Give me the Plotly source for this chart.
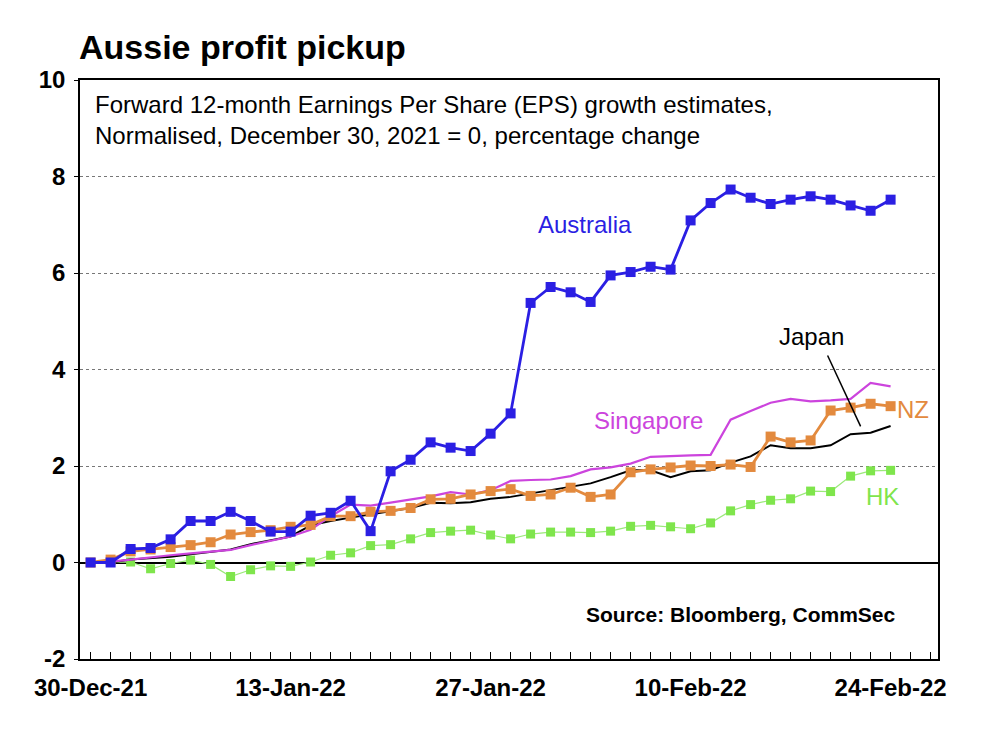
import plotly.graph_objects as go

# Trading-day index 0..40 (30-Dec-21 .. 24-Feb-22)
tick_positions = [0, 10, 20, 30, 40]
tick_labels = ["30-Dec-21", "13-Jan-22", "27-Jan-22", "10-Feb-22", "24-Feb-22"]
y_ticks = [-2, 0, 2, 4, 6, 8, 10]
y_tick_labels = ["-2", "0", "2", "4", "6", "8", "10"]

australia = [0.0, 0.0, 0.28, 0.30, 0.48, 0.86, 0.86, 1.05, 0.86, 0.64,
             0.64, 0.97, 1.03, 1.28, 0.65, 1.89, 2.13, 2.49, 2.38, 2.31,
             2.67, 3.09, 5.38, 5.71, 5.60, 5.40, 5.95, 6.02, 6.13, 6.07,
             7.09, 7.45, 7.73, 7.56, 7.43, 7.52, 7.59, 7.52, 7.40, 7.29, 7.52]
nz = [0.0, 0.06, 0.23, 0.27, 0.32, 0.36, 0.42, 0.58, 0.63, 0.67,
      0.74, 0.78, 0.96, 0.96, 1.05, 1.07, 1.13, 1.31, 1.32, 1.41,
      1.48, 1.52, 1.38, 1.41, 1.55, 1.36, 1.41, 1.87, 1.93, 1.97,
      2.01, 2.00, 2.03, 1.98, 2.61, 2.49, 2.53, 3.15, 3.21, 3.29, 3.24]
japan = [0.0, 0.0, 0.06, 0.09, 0.12, 0.17, 0.22, 0.27, 0.38, 0.46,
         0.54, 0.77, 0.86, 0.93, 1.00, 1.07, 1.13, 1.24, 1.23, 1.25,
         1.32, 1.36, 1.43, 1.50, 1.56, 1.64, 1.77, 1.91, 1.91, 1.77,
         1.89, 1.91, 2.07, 2.20, 2.43, 2.37, 2.37, 2.43, 2.66, 2.69, 2.83]
singapore = [0.0, 0.02, 0.06, 0.11, 0.15, 0.19, 0.23, 0.26, 0.36, 0.45,
             0.54, 0.68, 0.96, 1.20, 1.18, 1.24, 1.31, 1.37, 1.46, 1.41,
             1.50, 1.69, 1.71, 1.72, 1.79, 1.93, 1.97, 2.05, 2.19, 2.21,
             2.22, 2.23, 2.96, 3.14, 3.31, 3.39, 3.34, 3.36, 3.39, 3.72, 3.65]
hk = [0.0, 0.0, 0.01, -0.13, -0.02, 0.05, -0.04, -0.29, -0.15, -0.07,
      -0.08, 0.01, 0.15, 0.20, 0.35, 0.37, 0.49, 0.62, 0.65, 0.67,
      0.57, 0.49, 0.59, 0.63, 0.63, 0.62, 0.65, 0.75, 0.77, 0.74,
      0.70, 0.82, 1.07, 1.20, 1.29, 1.32, 1.48, 1.47, 1.79, 1.90, 1.91]

x = list(range(len(australia)))

C_AUS = "#2B1FE3"
C_NZ = "#E38A3E"
C_JP = "#000000"
C_SG = "#CC44DD"
C_HK = "#7FE54C"

FONT = "Arial, Liberation Sans, sans-serif"

fig = go.Figure()
fig.add_trace(go.Scatter(x=x, y=hk, mode="lines+markers", name="HK",
                         line=dict(color="#9BE97A", width=1.2),
                         marker=dict(symbol="square", size=9, color=C_HK)))
fig.add_trace(go.Scatter(x=x, y=japan, mode="lines", name="Japan",
                         line=dict(color=C_JP, width=2)))
fig.add_trace(go.Scatter(x=x, y=singapore, mode="lines", name="Singapore",
                         line=dict(color=C_SG, width=2.2)))
fig.add_trace(go.Scatter(x=x, y=nz, mode="lines+markers", name="NZ",
                         line=dict(color=C_NZ, width=2.8),
                         marker=dict(symbol="square", size=10, color=C_NZ)))
fig.add_trace(go.Scatter(x=x, y=australia, mode="lines+markers", name="Australia",
                         line=dict(color=C_AUS, width=2.8),
                         marker=dict(symbol="square", size=10, color=C_AUS)))

labels = [
    ("Australia", 24.7, 7.0, C_AUS),
    ("Singapore", 27.9, 2.94, C_SG),
    ("Japan", 36.05, 4.68, "#000000"),
    ("NZ", 41.1, 3.17, C_NZ),
    ("HK", 39.6, 1.37, C_HK),
]
for txt, lx, ly, col in labels:
    fig.add_annotation(x=lx, y=ly, xref="x", yref="y", text=txt, showarrow=False,
                       font=dict(family=FONT, size=24, color=col))

# pointer line from Japan label
fig.add_shape(type="line", xref="x", yref="y", x0=36.85, y0=4.29, x1=38.5, y1=2.82,
              line=dict(color="black", width=1.5))

fig.add_annotation(x=-0.003, y=1.057, xref="paper", yref="paper",
                   text="<b>Aussie profit pickup</b>",
                   showarrow=False, xanchor="left", yanchor="middle",
                   font=dict(family=FONT, size=34, color="black"))

fig.add_annotation(x=0.015, y=0.985, xref="paper", yref="paper",
                   text="Forward 12-month Earnings Per Share (EPS) growth estimates,<br>Normalised, December 30, 2021 = 0, percentage change",
                   showarrow=False, xanchor="left", yanchor="top", align="left",
                   font=dict(family=FONT, size=24, color="black"))

fig.add_annotation(x=0.953, y=0.076, xref="paper", yref="paper",
                   text="<b>Source: Bloomberg, CommSec</b>", showarrow=False,
                   xanchor="right", yanchor="middle",
                   font=dict(family=FONT, size=21, color="black"))

fig.update_layout(
    width=1000, height=737,
    margin=dict(l=80, r=62, t=80, b=78),
    paper_bgcolor="white", plot_bgcolor="white",
    showlegend=False,
    font=dict(family=FONT, color="black"),
)
fig.update_xaxes(
    range=[-0.53, 42.37],
    tickmode="array", tickvals=tick_positions, ticktext=tick_labels,
    tickfont=dict(family=FONT, size=24, color="black", weight="bold"),
    ticks="inside", ticklen=7, tickcolor="black", tickwidth=1,
    minor=dict(ticks="inside", dtick=1, tick0=0, ticklen=7, tickcolor="black", tickwidth=1),
    showgrid=False, zeroline=False,
    showline=True, linecolor="black", linewidth=1.5, mirror=True,
    ticklabelstandoff=6,
)
fig.update_yaxes(
    range=[-2, 10], tickmode="array", tickvals=y_ticks, ticktext=y_tick_labels,
    tickfont=dict(family=FONT, size=24, color="black", weight="bold"),
    ticks="outside", ticklen=4, tickcolor="black",
    showgrid=True, gridcolor="#777777", griddash="dot", gridwidth=1,
    zeroline=True, zerolinecolor="black", zerolinewidth=1.5,
    showline=True, linecolor="black", linewidth=1.5, mirror=True,
    ticklabelstandoff=4,
)

fig.write_html("out.html")
